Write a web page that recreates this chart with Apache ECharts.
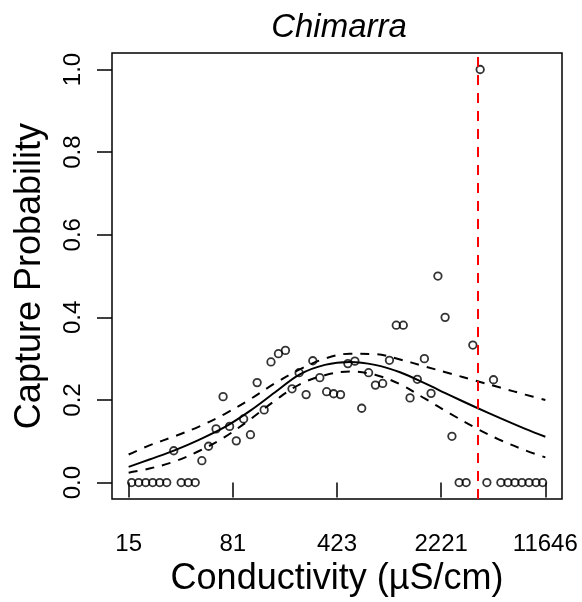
<!DOCTYPE html>
<html>
<head>
<meta charset="utf-8">
<script src="https://cdn.jsdelivr.net/npm/echarts@6/dist/echarts.min.js"></script>
<style>
html,body{margin:0;padding:0;background:#fff;}
#chart{width:582px;height:602px;}
</style>
</head>
<body>
<div id="chart"></div>
<script>
// ---- data (x values are natural log of conductivity, µS/cm) ----
const titleText = 'Chimarra';
const xAxisTitle = 'Conductivity (µS/cm)';
const yAxisTitle = 'Capture Probability';
const xTickLabels = ['15', '81', '423', '2221', '11646'];
const yTickValues = [0, 0.2, 0.4, 0.6, 0.8, 1.0];

const obsLogCond = [2.756, 2.868, 2.980, 3.092, 3.204, 3.316, 3.428, 3.547, 3.659, 3.771,
  3.877, 3.984, 4.104, 4.216, 4.320, 4.427, 4.544, 4.653, 4.760, 4.872,
  4.981, 5.100, 5.212, 5.317, 5.430, 5.542, 5.649, 5.761, 5.870, 5.982,
  6.092, 6.209, 6.321, 6.430, 6.540, 6.649, 6.765, 6.873, 6.982, 7.094,
  7.202, 7.318, 7.431, 7.538, 7.647, 7.762, 7.871, 7.986, 8.098, 8.205,
  8.322, 8.429, 8.535, 8.653, 8.765, 8.877, 8.989, 9.102, 9.214, 9.319];
const obsProb = [0, 0, 0, 0, 0, 0, 0.077, 0, 0, 0,
  0.053, 0.088, 0.130, 0.208, 0.136, 0.101, 0.154, 0.116, 0.242, 0.176,
  0.292, 0.312, 0.320, 0.227, 0.266, 0.213, 0.295, 0.254, 0.220, 0.215,
  0.213, 0.288, 0.294, 0.180, 0.266, 0.236, 0.240, 0.296, 0.381, 0.381,
  0.205, 0.250, 0.300, 0.216, 0.500, 0.400, 0.112, 0, 0, 0.333,
  1.000, 0, 0.249, 0, 0, 0, 0, 0, 0, 0];

const curveLogCond = [2.708, 3.040, 3.440, 3.840, 4.240, 4.640, 5.041, 5.441, 5.841,
  6.241, 6.641, 7.042, 7.442, 7.842, 8.242, 8.642, 9.043, 9.363];
const fitProb = [0.038, 0.056, 0.078, 0.104, 0.134, 0.173, 0.218, 0.262, 0.285,
  0.292, 0.285, 0.267, 0.240, 0.211, 0.183, 0.156, 0.130, 0.111];
const upperProb = [0.068, 0.090, 0.112, 0.136, 0.166, 0.201, 0.240, 0.274, 0.300,
  0.312, 0.311, 0.298, 0.281, 0.264, 0.247, 0.230, 0.213, 0.200];
const lowerProb = [0.024, 0.034, 0.051, 0.077, 0.110, 0.152, 0.198, 0.238, 0.260,
  0.269, 0.261, 0.238, 0.203, 0.167, 0.133, 0.103, 0.078, 0.061];

const thresholdLogCond = 8.285;

// ---- build ----
const FONT = '"Liberation Sans", Arial, Helvetica, sans-serif';
const lo = Math.log(Number(xTickLabels[0]));
const hi = Math.log(Number(xTickLabels[xTickLabels.length - 1]));
const step = (hi - lo) / (xTickLabels.length - 1);
const xTickPos = xTickLabels.map((_, i) => lo + i * step);
const xMin = lo - 0.04 * (hi - lo);
const xMax = hi + 0.04 * (hi - lo);

const zip = (a, b) => a.map((v, i) => [v, b[i]]);

const chart = echarts.init(document.getElementById('chart'), null, {renderer: 'canvas'});
chart.setOption({
  animation: false,
  backgroundColor: '#fff',
  title: {
    text: titleText,
    left: 334,
    textAlign: 'center',
    top: 6,
    textStyle: {fontFamily: FONT, fontSize: 33, fontStyle: 'italic', fontWeight: 'normal', color: '#000'}
  },
  grid: {
    left: 112, right: 20, top: 53, bottom: 99,
    show: true, borderColor: '#000', borderWidth: 1.5, backgroundColor: 'transparent'
  },
  xAxis: {
    type: 'value', min: xMin, max: xMax,
    axisLine: {show: false},
    splitLine: {show: false},
    axisTick: {show: true, inside: false, length: 15, customValues: xTickPos,
      lineStyle: {color: '#000', width: 1.5}},
    axisLabel: {
      customValues: xTickPos, margin: 33,
      fontFamily: FONT, fontSize: 24, color: '#000',
      formatter: v => {
        let best = 0;
        xTickPos.forEach((p, i) => { if (Math.abs(p - v) < Math.abs(xTickPos[best] - v)) best = i; });
        return xTickLabels[best];
      }
    },
    name: xAxisTitle, nameLocation: 'middle', nameGap: 54,
    nameTextStyle: {fontFamily: FONT, fontSize: 36, color: '#000'}
  },
  yAxis: {
    type: 'value', min: -0.04, max: 1.04,
    axisLine: {show: false},
    splitLine: {show: false},
    axisTick: {show: true, inside: false, length: 15, customValues: yTickValues,
      lineStyle: {color: '#000', width: 1.5}},
    axisLabel: {
      customValues: yTickValues, margin: 27, rotate: 90,
      fontFamily: FONT, fontSize: 24, color: '#000',
      formatter: v => v.toFixed(1)
    },
    name: yAxisTitle, nameLocation: 'middle', nameGap: 64, nameRotate: 90,
    nameTextStyle: {fontFamily: FONT, fontSize: 36, color: '#000'}
  },
  series: [
    {
      type: 'scatter', name: 'observed',
      data: zip(obsLogCond, obsProb),
      symbol: 'circle', symbolSize: 7.5,
      itemStyle: {color: 'rgba(0,0,0,0)', borderColor: '#000', borderWidth: 1.8},
      z: 2
    },
    {
      type: 'line', name: 'fit', data: zip(curveLogCond, fitProb),
      showSymbol: false, smooth: 0.35,
      lineStyle: {color: '#000', width: 2}, z: 3
    },
    {
      type: 'line', name: 'upper', data: zip(curveLogCond, upperProb),
      showSymbol: false, smooth: 0.35,
      lineStyle: {color: '#000', width: 2, type: [9, 8]}, z: 3
    },
    {
      type: 'line', name: 'lower', data: zip(curveLogCond, lowerProb),
      showSymbol: false, smooth: 0.35,
      lineStyle: {color: '#000', width: 2, type: [9, 8]}, z: 3
    },
    {
      type: 'line', name: 'threshold', data: [],
      markLine: {
        silent: true, symbol: 'none', animation: false,
        label: {show: false},
        lineStyle: {color: '#ff0000', width: 2, type: [10, 8]},
        data: [{xAxis: thresholdLogCond}]
      },
      z: 4
    }
  ]
});
</script>
</body>
</html>
